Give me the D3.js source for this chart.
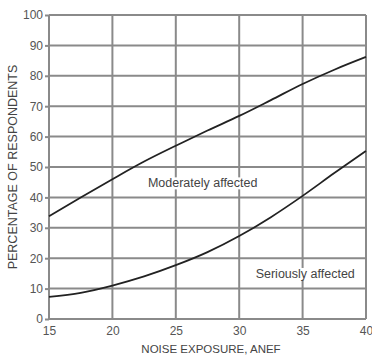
<!DOCTYPE html>
<html>
<head>
<meta charset="utf-8">
<script src="https://cdn.jsdelivr.net/npm/d3@7"></script>
<style>
	body { margin: 0; background: #fff; }
	text { font-family: "Liberation Sans", Arial, sans-serif; fill: #444; }
</style>
</head>
<body>
<div id="chart"></div>
<script>
var anef = [15, 17.5, 20, 22.5, 25, 27.5, 30, 32.5, 35, 37.5, 40];
var moderately = [33.8, 40, 46, 51.8, 57, 62, 66.8, 72, 77.3, 82, 86.2];
var seriously = [7.3, 8.6, 11, 14, 17.7, 22, 27.3, 33.5, 40.5, 48, 55.3];
var xTicks = [15, 20, 25, 30, 35, 40];
var yTicks = [0, 10, 20, 30, 40, 50, 60, 70, 80, 90, 100];

var svg = d3.select("#chart").append("svg")
	.attr("width", 372)
	.attr("height", 358);

var margin = {top: 15, right: 6, bottom: 39, left: 49},
	width = 372 - margin.left - margin.right,
	height = 358 - margin.top - margin.bottom;

var g = svg.append("g")
	.attr("transform", "translate(" + margin.left + "," + margin.top + ")");

var x = d3.scaleLinear().domain([15, 40]).range([0, width]),
	y = d3.scaleLinear().domain([0, 100]).range([height, 0]);

// grid
g.selectAll(".vgrid")
	.data(xTicks)
	.enter().append("line")
	.attr("x1", d => x(d)).attr("x2", d => x(d))
	.attr("y1", 0).attr("y2", height)
	.attr("stroke", "#8a8a8a").attr("stroke-width", 2);

g.selectAll(".hgrid")
	.data(yTicks)
	.enter().append("line")
	.attr("x1", 0).attr("x2", width)
	.attr("y1", d => y(d)).attr("y2", d => y(d))
	.attr("stroke", "#8a8a8a").attr("stroke-width", 2);

// axes
var yAxis = d3.axisLeft(y).tickValues(yTicks).tickSize(4).tickPadding(2);
var xAxis = d3.axisBottom(x).tickValues(xTicks).tickSize(0).tickPadding(7);

var ya = g.append("g").call(yAxis);
ya.select(".domain").remove();
ya.selectAll("line").attr("stroke", "#8a8a8a").attr("stroke-width", 2);
ya.selectAll("text").style("font-size", "12px").style("fill", "#555");

var xa = g.append("g").attr("transform", "translate(0," + height + ")").call(xAxis);
xa.select(".domain").remove();
xa.selectAll("text").style("font-size", "12px").style("fill", "#555");

var line = d3.line()
	.curve(d3.curveMonotoneX)
	.x((d, i) => x(anef[i]))
	.y(d => y(d));

g.append("path").datum(moderately)
	.attr("d", line).attr("fill", "none")
	.attr("stroke", "#222").attr("stroke-width", 1.8);

g.append("path").datum(seriously)
	.attr("d", line).attr("fill", "none")
	.attr("stroke", "#222").attr("stroke-width", 1.8);

// curve labels sit on a white patch that hides the grid
function label(xv, yv, txt) {
	var t = g.append("text")
		.attr("x", x(xv)).attr("y", y(yv))
		.style("font-size", "12.5px")
		.text(txt);
	var b = t.node().getBBox();
	g.insert("rect", function () { return t.node(); })
		.attr("x", b.x - 2).attr("y", b.y + 1)
		.attr("width", b.width + 4).attr("height", b.height - 2)
		.attr("fill", "#fff");
}
label(22.8, 43.3, "Moderately affected");
label(31.3, 13.5, "Seriously affected");

svg.append("text")
	.attr("x", 211).attr("y", 353)
	.attr("text-anchor", "middle")
	.style("font-size", "11.5px")
	.text("NOISE EXPOSURE, ANEF");

svg.append("text")
	.attr("transform", "translate(17,167) rotate(-90)")
	.attr("text-anchor", "middle")
	.style("font-size", "12.5px")
	.text("PERCENTAGE OF RESPONDENTS");
</script>
</body>
</html>
